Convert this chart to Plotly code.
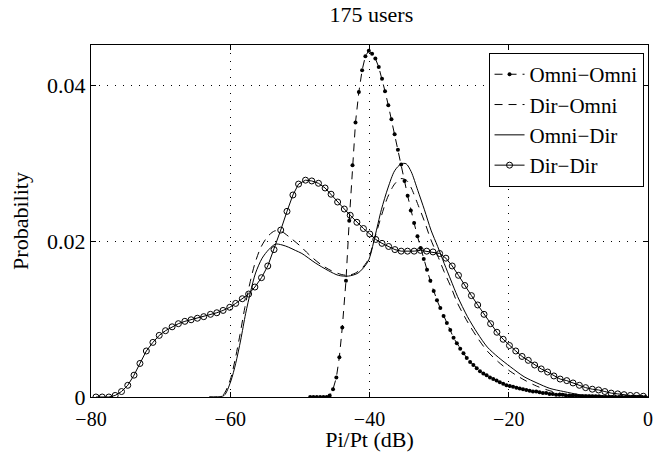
import plotly.graph_objects as go

# ---------------- data ----------------
omni_omni_x = [-48.52, -48.05, -47.57, -47.09, -46.62, -46.15, -45.72, -45.24, -44.76, -44.33,
               -43.91, -43.38, -42.91, -42.44, -42.01, -41.53, -41.06, -40.59, -40.10, -39.63,
               -39.16, -38.67, -38.20, -37.77, -37.30, -36.85, -36.39, -35.92, -35.45, -34.97,
               -34.52, -34.07, -33.59, -33.11, -32.66, -32.21, -31.74, -31.26, -30.78, -30.31,
               -29.83, -29.36, -28.89, -28.40, -27.93, -27.46, -26.97, -26.50, -26.03, -25.55,
               -25.08, -24.60, -24.13, -23.65, -23.18, -22.70, -22.23, -21.75, -21.28, -20.80,
               -20.33, -19.85, -19.38, -18.90, -18.43, -17.95, -17.48, -17.00, -16.53, -16.05,
               -15.58, -15.10, -14.63, -14.15, -13.68, -13.20, -12.73, -12.25, -11.78, -11.30,
               -10.83, -10.35, -9.88, -9.40, -8.93, -8.45, -7.98, -7.50, -7.03, -6.55,
               -6.08, -5.60, -5.13, -4.65, -4.18, -3.70, -3.23, -2.75, -2.28, -1.80,
               -1.33, -0.85, -0.38]
omni_omni_y = [0, 0, 0, 0, 0, 0, 0.0002, 0.0010, 0.0025, 0.0051,
               0.0089, 0.0149, 0.0226, 0.0297, 0.0352, 0.0391, 0.0419, 0.0437, 0.0444, 0.0440,
               0.0434, 0.0423, 0.0408, 0.0392, 0.0374, 0.0356, 0.0337, 0.0317, 0.0298, 0.0277,
               0.0258, 0.0239, 0.0223, 0.0206, 0.0191, 0.0177, 0.0163, 0.0149, 0.0136, 0.0124,
               0.0114, 0.0104, 0.0095, 0.0086, 0.0076, 0.0069, 0.0062, 0.0056, 0.0050, 0.0045,
               0.0041, 0.0037, 0.0033, 0.0030, 0.0028, 0.0025, 0.0023, 0.0021, 0.0019, 0.0017,
               0.0015, 0.0014, 0.0013, 0.0012, 0.0011, 0.0010, 0.0009, 0.0008, 0.0007, 0.0007,
               0.0006, 0.0005, 0.0005, 0.0004, 0.0004, 0.0003, 0.0003, 0.0003, 0.0002, 0.0002,
               0.0002, 0.0002, 0.0001, 0.0001, 0.0001, 0.0001, 0.0001, 0.0001, 0.0001, 0.0000,
               0.0000, 0.0000, 0.0000, 0.0000, 0.0000, 0.0000, 0.0000, 0.0000, 0.0000, 0.0000,
               0.0000, 0.0000, 0.0000]

dir_omni_x = [-63.0, -62.0, -61.0, -60.0, -59.3, -58.6, -57.9, -57.2, -56.5, -55.6,
              -54.6, -53.6, -52.6, -51.5, -50.0, -48.5, -47.0, -45.5, -44.0, -43.0,
              -42.0, -41.0, -40.2, -39.3, -38.3, -37.4, -36.4, -35.5, -34.7, -34.0,
              -33.1, -32.1, -31.2, -30.2, -29.3, -28.3, -27.4, -25.9, -24.5, -23.1,
              -21.5, -19.8, -17.8, -16.0, -14.1, -12.1, -9.8, -7.4, -2.7, 0.0]
dir_omni_y = [0, 0, 0.0003, 0.0022, 0.0048, 0.0080, 0.0115, 0.0145, 0.0170, 0.0192,
              0.0206, 0.0213, 0.0212, 0.0205, 0.0194, 0.0181, 0.0170, 0.0162, 0.0157, 0.0156,
              0.0159, 0.0166, 0.0176, 0.0202, 0.0232, 0.0256, 0.0273, 0.0280, 0.0278, 0.0268,
              0.0248, 0.0225, 0.0202, 0.0181, 0.0161, 0.0141, 0.0121, 0.0096, 0.0076, 0.0059,
              0.0045, 0.0033, 0.0022, 0.0014, 0.0008, 0.0004, 0.0002, 0.0001, 0, 0]

omni_dir_x = [-63.0, -62.07, -60.88, -59.93, -59.22, -58.50, -57.79, -57.08, -56.36, -55.42,
              -54.47, -53.51, -52.57, -51.61, -50.66, -49.71, -47.80, -45.91, -44.48, -43.05,
              -41.63, -40.20, -39.24, -38.30, -37.35, -36.39, -35.45, -34.74, -34.02, -33.07,
              -32.11, -31.17, -30.21, -29.26, -28.32, -27.36, -25.93, -24.51, -23.08, -21.51,
              -19.80, -17.80, -15.95, -14.09, -12.10, -9.81, -7.39, -2.68, 0.0]
omni_dir_y = [0, 0, 0.0002, 0.0020, 0.0043, 0.0073, 0.0107, 0.0135, 0.0159, 0.0178,
              0.0189, 0.0196, 0.0195, 0.0192, 0.0188, 0.0184, 0.0172, 0.0162, 0.0156, 0.0155,
              0.0159, 0.0174, 0.0205, 0.0240, 0.0268, 0.0290, 0.0299, 0.0299, 0.0289, 0.0265,
              0.0240, 0.0214, 0.0193, 0.0171, 0.0150, 0.0129, 0.0103, 0.0082, 0.0064, 0.0051,
              0.0039, 0.0026, 0.0018, 0.0011, 0.0007, 0.0003, 0.0002, 0.0000, 0.0000]

dir_dir_x = [-79.29, -78.39, -77.43, -76.53, -75.62, -74.72, -73.82, -72.97, -72.05, -71.11,
             -70.20, -69.30, -68.35, -67.45, -66.52, -65.62, -64.72, -63.81, -62.84, -61.93,
             -61.03, -60.07, -59.22, -58.27, -57.36, -56.46, -55.51, -54.61, -53.71, -52.75,
             -51.85, -51.00, -50.19, -49.19, -48.29, -47.33, -46.38, -45.52, -44.58, -43.62,
             -42.77, -41.81, -40.87, -39.96, -39.10, -38.20, -37.25, -36.35, -35.45, -34.54,
             -33.59, -32.68, -31.78, -30.88, -29.93, -29.03, -28.12, -27.22, -26.32, -25.36,
             -24.46, -23.55, -22.61, -21.70, -20.80, -19.90, -18.99, -18.09, -17.19, -16.28,
             -15.34, -14.42, -13.52, -12.62, -11.67, -10.77, -9.86, -8.96, -8.00, -7.10,
             -6.20, -5.29, -4.35, -3.44, -2.54, -1.64, -0.68]
dir_dir_y = [0, 0, 0, 0.0002, 0.0007, 0.0015, 0.0028, 0.0043, 0.0059, 0.0070,
             0.0079, 0.0085, 0.0090, 0.0094, 0.0097, 0.0099, 0.0101, 0.0103, 0.0106, 0.0108,
             0.0111, 0.0115, 0.0120, 0.0126, 0.0132, 0.0141, 0.0153, 0.0168, 0.0189, 0.0214,
             0.0238, 0.0259, 0.0273, 0.0278, 0.0277, 0.0274, 0.0268, 0.0260, 0.0250, 0.0241,
             0.0233, 0.0224, 0.0216, 0.0209, 0.0202, 0.0197, 0.0193, 0.0189, 0.0187, 0.0187,
             0.0187, 0.0188, 0.0187, 0.0186, 0.0184, 0.0178, 0.0168, 0.0156, 0.0143, 0.0130,
             0.0118, 0.0106, 0.0094, 0.0083, 0.0074, 0.0066, 0.0059, 0.0052, 0.0047, 0.0041,
             0.0036, 0.0032, 0.0027, 0.0023, 0.0021, 0.0018, 0.0015, 0.0012, 0.0010, 0.0009,
             0.0007, 0.0005, 0.0004, 0.0003, 0.0002, 0.0002, 0.0001]

x_ticks = [-80, -60, -40, -20, 0]
x_tick_text = ["\u221280", "\u221260", "\u221240", "\u221220", "0"]
y_ticks = [0, 0.02, 0.04]
y_tick_text = ["0", "0.02", "0.04"]

FONT = "Times New Roman, Liberation Serif, Tinos, DejaVu Serif, serif"

fig = go.Figure()
fig.add_trace(go.Scatter(x=omni_omni_x, y=omni_omni_y, name="Omni\u2212Omni", mode="lines+markers",
                         line=dict(color="black", width=1, dash="8px,6px"),
                         marker=dict(symbol="circle", size=4, color="black")))
fig.add_trace(go.Scatter(x=dir_omni_x, y=dir_omni_y, name="Dir\u2212Omni", mode="lines",
                         line=dict(color="black", width=1, dash="8px,6px", shape="spline", smoothing=0.8)))
fig.add_trace(go.Scatter(x=omni_dir_x, y=omni_dir_y, name="Omni\u2212Dir", mode="lines",
                         line=dict(color="black", width=1, shape="spline", smoothing=0.8)))
fig.add_trace(go.Scatter(x=dir_dir_x, y=dir_dir_y, name="Dir\u2212Dir", mode="lines+markers",
                         line=dict(color="black", width=1),
                         marker=dict(symbol="circle-open", size=6, color="black", line=dict(width=1, color="black"))))

axis_common = dict(showline=True, linecolor="black", linewidth=1, mirror="ticks",
                   ticks="inside", ticklen=5, tickcolor="black", tickwidth=1,
                   showgrid=True, gridcolor="black", gridwidth=1, griddash="1px,7px",
                   zeroline=False, ticklabeloverflow="allow", automargin=False)

fig.update_xaxes(range=[-80, 0], tickvals=x_ticks, ticktext=x_tick_text, ticklabelstandoff=4,
                 tickfont=dict(family=FONT, size=20, color="black"),
                 title=dict(text="Pi/Pt (dB)", font=dict(family=FONT, size=22, color="black"), standoff=4),
                 **axis_common)
fig.update_yaxes(range=[0, 0.04513], tickvals=y_ticks, ticktext=y_tick_text,
                 tickfont=dict(family=FONT, size=22, color="black"),
                 title=dict(text="Probability", font=dict(family=FONT, size=22, color="black"), standoff=12),
                 **axis_common)

fig.update_layout(
    width=655, height=452,
    margin=dict(l=91, r=7, t=45, b=55, autoexpand=False),
    paper_bgcolor="white", plot_bgcolor="white",
    font=dict(family=FONT, color="black"),
    title=dict(text="175 users", x=0.567, xanchor="center", y=0.968, yanchor="middle", yref="container",
               font=dict(family=FONT, size=22, color="black")),
    legend=dict(x=0.992, xanchor="right", y=0.977, yanchor="top",
                bgcolor="white", bordercolor="black", borderwidth=1,
                font=dict(family=FONT, size=21, color="black"),
                tracegroupgap=0, itemwidth=30),
    showlegend=True,
)

fig.write_html("out.html")
